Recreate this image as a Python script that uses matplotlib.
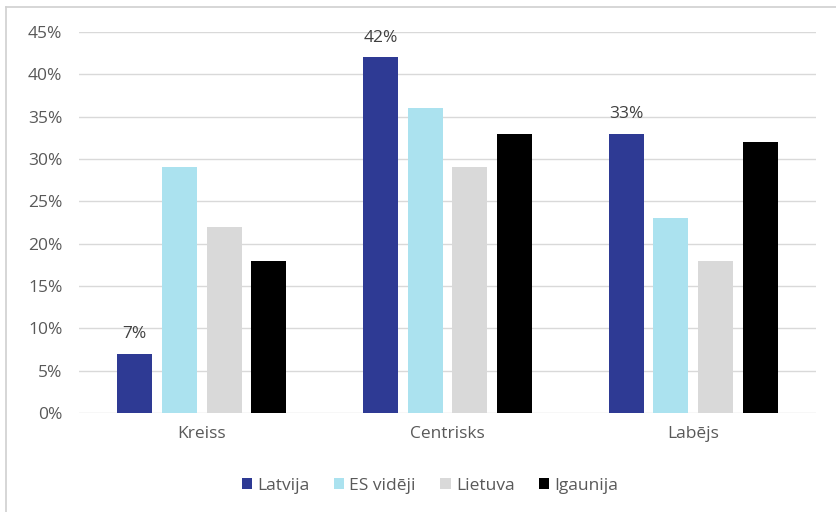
import numpy as np
import matplotlib.pyplot as plt
from matplotlib.lines import Line2D

categories = ["Kreiss", "Centrisks", "Labējs"]
series_names = ["Latvija", "ES vidēji", "Lietuva", "Igaunija"]
latvija = [7, 42, 33]
es_videji = [29, 36, 23]
lietuva = [22, 29, 18]
igaunija = [18, 33, 32]
values = [latvija, es_videji, lietuva, igaunija]
colors = ["#2E3A94", "#ABE2EF", "#D9D9D9", "#000000"]

plt.rcParams['font.family'] = ['Open Sans', 'DejaVu Sans']
txt = "#595959"
fs = 12.5

fig = plt.figure(figsize=(8.36, 5.12), dpi=100)
ax = fig.add_axes([79/836, 1 - 413/512, (816 - 79)/836, (413 - 32)/512])

x = np.arange(len(categories))
w = 0.142
pitch = 0.182
for i, (name, vals) in enumerate(zip(series_names, values)):
    pos = x + (i - 1.5) * pitch
    ax.bar(pos, vals, width=w, color=colors[i], label=name, zorder=3)
    # etichette solo per Latvija
    if i == 0:
        for p, v in zip(pos, vals):
            ax.text(p, v + 1.4, f"{v}%", ha="center", va="bottom", fontsize=fs, color="#404040")

ax.set_xlim(-0.5, 2.5)
ax.set_ylim(0, 45)
ax.set_yticks(range(0, 46, 5))
ax.set_yticklabels([f"{t}%" for t in range(0, 46, 5)])
ax.set_xticks(x)
ax.set_xticklabels(categories)
ax.tick_params(axis="both", length=0, labelsize=fs, colors=txt)
ax.tick_params(axis="y", pad=12)
ax.tick_params(axis="x", pad=9)
ax.grid(axis="y", color="#D9D9D9", linewidth=1, zorder=0)
for s in ax.spines.values():
    s.set_visible(False)

# legenda sotto il grafico
ax.legend(loc="center", bbox_to_anchor=(430/836, 1 - 486/512), bbox_transform=fig.transFigure,
          ncol=4, frameon=False, fontsize=fs, handlelength=0.6, handleheight=0.6,
          handletextpad=0.3, columnspacing=1.4, labelcolor=txt)

# cornice del grafico (screenshot tagliato)
fig.add_artist(Line2D([6/836, 6/836], [0, 1 - 7/512], color="#D0D0D0", linewidth=1.2, transform=fig.transFigure))
fig.add_artist(Line2D([6/836, 1], [1 - 7/512, 1 - 7/512], color="#D0D0D0", linewidth=1.2, transform=fig.transFigure))

fig.savefig("out.png", dpi=100)
